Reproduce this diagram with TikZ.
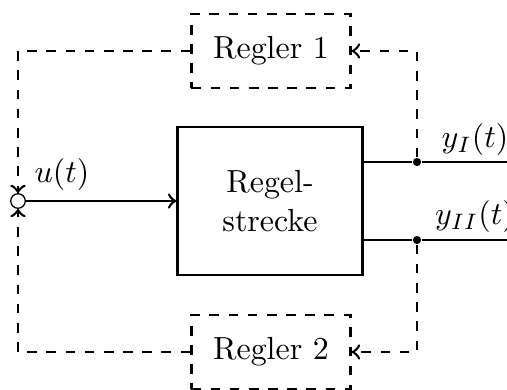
\documentclass[tikz,border=0pt]{standalone}
\usetikzlibrary{positioning, calc}

\begin{document}
\begin{tikzpicture}[x=0.011cm, y=-0.011cm]

    % styles
    \tikzset{
        regler/.style={draw, dashed, thick, minimum width=1.75cm, minimum height=0.81cm},
        strecke/.style={draw, thick, minimum width=2.035cm, minimum height=1.63cm, align=center},
        summe/.style={draw, circle, minimum size=0.16cm, inner sep=0pt},
        punkt/.style={circle, fill, minimum size=0.09cm, inner sep=0pt},
        fb/.style={thick, dashed},
    }

    % picture frame
    \clip (0,0) rectangle (507,390);
    \useasboundingbox (0,0) rectangle (507,390);

    % blocks
    \node[strecke] (S) at (270,201) {Regel-\\strecke};
    \node[regler] (R1) at (271,51) {Regler 1};
    \node[regler] (R2) at (271,352) {Regler 2};

    % summing point
    \node[summe] (sum) at (18,201) {};

    % branch points on the outputs
    \node[punkt] (b1) at (417,162) {};
    \node[punkt] (b2) at (417,240) {};

    % free ends of the outputs
    \coordinate (yI) at (507,162);
    \coordinate (yII) at (507,240);

    % corners of the feedback paths
    \coordinate (c1) at (417,51);
    \coordinate (c2) at (417,352);
    \coordinate (c3) at (18,51);
    \coordinate (c4) at (18,352);

    % input
    \draw[->, thick] (sum) -- (S);
    \node (u) at (62,175) {$u(t)$};

    % outputs
    \draw[thick] (S.east |- b1) -- (b1) -- (yI);
    \draw[thick] (S.east |- b2) -- (b2) -- (yII);
    \node (lyI) at (475,140) {$y_I(t)$};
    \node (lyII) at (475,217) {$y_{II}(t)$};

    % feedback paths
    \draw[fb, ->] (b1) -- (c1) -- (R1);
    \draw[fb, ->] (b2) -- (c2) -- (R2);
    \draw[fb, ->] (R1) -- (c3) -- (sum);
    \draw[fb, ->] (R2) -- (c4) -- (sum);

\end{tikzpicture}
\end{document}
